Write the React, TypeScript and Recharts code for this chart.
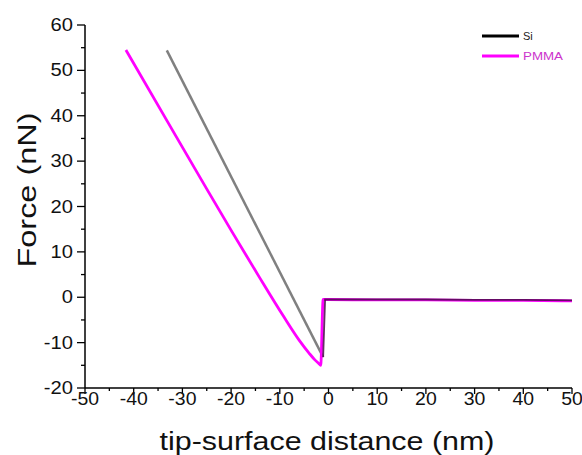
import { LineChart, Line, XAxis, YAxis } from "recharts"

const xTicks = [-50, -45, -40, -35, -30, -25, -20, -15, -10, -5, 0, 5, 10, 15, 20, 25, 30, 35, 40, 45, 50]
const yTicks = [-20, -15, -10, -5, 0, 5, 10, 15, 20, 25, 30, 35, 40, 45, 50, 55, 60]

// Si: approach slope (grey) and flat part after snap (dark)
const siApproachX = [-33.2, -1.1]
const siApproachY = [54.4, -13.2]
const siFlatX = [-1.1, -0.7, 10, 20, 30, 40, 50]
const siFlatY = [-13.2, -0.5, -0.5, -0.5, -0.6, -0.6, -0.7]

const pmmaX = [-41.6, -33, -25.4, -19.8, -14.3, -9.3, -6, -4, -2.8, -2, -1.6, -1.1, 0, 10, 20, 30, 40, 50]
const pmmaY = [54.5, 38.6, 24.6, 14.4, 4.6, -4.1, -9.5, -12.3, -13.8, -14.6, -15.0, -0.5, -0.5, -0.6, -0.6, -0.7, -0.7, -0.8]

const toPoints = (xs: number[], ys: number[]) => xs.map((x, i) => ({ x, y: ys[i] }))

const siApproach = toPoints(siApproachX, siApproachY)
const siFlat = toPoints(siFlatX, siFlatY)
const pmma = toPoints(pmmaX, pmmaY)

const font = "'Liberation Sans', Arial, sans-serif"

const BottomTick = ({ x, y, payload }: any) => {
  const major = payload.value % 10 === 0
  return (
    <g>
      <line x1={x} y1={y} x2={x} y2={y + (major ? 6 : 3)} stroke="#000" strokeWidth={1.3} />
      {major && (
        <text
          transform={`translate(${x},${y + 17}) scale(1.08,1)`}
          textAnchor="middle"
          fontSize={18}
          fontFamily={font}
          fill="#111"
        >
          {payload.value}
        </text>
      )}
    </g>
  )
}

const TopTick = ({ x, y, payload }: any) => {
  const major = payload.value % 10 === 0
  return <line x1={x} y1={y} x2={x} y2={y + (major ? 5 : 3)} stroke="#000" strokeWidth={1.3} />
}

const LeftTick = ({ x, y, payload }: any) => {
  const major = payload.value % 10 === 0
  return (
    <g>
      <line x1={x} y1={y} x2={x - (major ? 8 : 4)} y2={y} stroke="#000" strokeWidth={1.3} />
      {major && (
        <text
          transform={`translate(${x - 12},${y + 6}) scale(1.12,1)`}
          textAnchor="end"
          fontSize={18}
          fontFamily={font}
          fill="#111"
        >
          {payload.value}
        </text>
      )}
    </g>
  )
}

const RightTick = ({ x, y, payload }: any) => {
  const major = payload.value % 10 === 0
  return <line x1={x} y1={y} x2={x - (major ? 5 : 3)} y2={y} stroke="#000" strokeWidth={1.3} />
}

export default function App() {
  return (
    <div style={{ position: "absolute", left: 0, top: 0, width: 582, height: 455, background: "#fff" }}>
      <LineChart width={582} height={455} margin={{ top: 25, right: 10, bottom: 0, left: 0 }}>
        <XAxis
          xAxisId="b"
          type="number"
          dataKey="x"
          domain={[-50, 50]}
          ticks={xTicks}
          interval={0}
          allowDataOverflow
          height={67}
          tickSize={0}
          tickMargin={0}
          tickLine={false}
          axisLine={{ stroke: "#000", strokeWidth: 1.5 }}
          tick={BottomTick}
        />
        <XAxis
          xAxisId="t"
          orientation="top"
          type="number"
          dataKey="x"
          domain={[-50, 50]}
          ticks={xTicks}
          interval={0}
          allowDataOverflow
          height={0}
          tickSize={0}
          tickMargin={0}
          tickLine={false}
          axisLine={{ stroke: "#000", strokeWidth: 1.5 }}
          tick={TopTick}
        />
        <YAxis
          yAxisId="l"
          type="number"
          domain={[-20, 60]}
          ticks={yTicks}
          interval={0}
          allowDataOverflow
          width={85}
          tickSize={0}
          tickMargin={0}
          tickLine={false}
          axisLine={{ stroke: "#000", strokeWidth: 1.5 }}
          tick={LeftTick}
        />
        <YAxis
          yAxisId="r"
          orientation="right"
          type="number"
          domain={[-20, 60]}
          ticks={yTicks}
          interval={0}
          allowDataOverflow
          width={0}
          tickSize={0}
          tickMargin={0}
          tickLine={false}
          axisLine={{ stroke: "#000", strokeWidth: 1.5 }}
          tick={RightTick}
        />
        <Line xAxisId="b" yAxisId="l" data={siApproach} dataKey="y" type="linear" stroke="#808080" strokeWidth={2.5} dot={false} isAnimationActive={false} />
        <Line xAxisId="b" yAxisId="l" data={pmma} dataKey="y" type="monotone" stroke="#ff00ff" strokeWidth={2.8} strokeLinejoin="round" dot={false} isAnimationActive={false} />
        <Line xAxisId="b" yAxisId="l" data={siFlat} dataKey="y" type="linear" stroke="#4a0c4a" strokeWidth={1.8} strokeOpacity={0.85} dot={false} isAnimationActive={false} />
      </LineChart>
      <svg width={582} height={455} style={{ position: "absolute", left: 0, top: 0, pointerEvents: "none" }}>
        <text
          x={327}
          y={450}
          textAnchor="middle"
          fontSize={26}
          textLength={335}
          lengthAdjust="spacingAndGlyphs"
          fontFamily={font}
          fill="#111"
        >
          tip-surface distance (nm)
        </text>
        <text
          transform="translate(36,190) rotate(-90)"
          textAnchor="middle"
          fontSize={26}
          textLength={155}
          lengthAdjust="spacingAndGlyphs"
          fontFamily={font}
          fill="#111"
        >
          Force (nN)
        </text>
        <line x1={482} y1={36} x2={519} y2={36} stroke="#000" strokeWidth={3} />
        <text x={523} y={40} fontSize={11} fontFamily={font} fill="#222">Si</text>
        <line x1={482} y1={56} x2={519} y2={56} stroke="#ff00ff" strokeWidth={3} />
        <text x={523} y={60} fontSize={11} textLength={40} lengthAdjust="spacingAndGlyphs" fontFamily={font} fill="#cc33cc">PMMA</text>
      </svg>
    </div>
  )
}
